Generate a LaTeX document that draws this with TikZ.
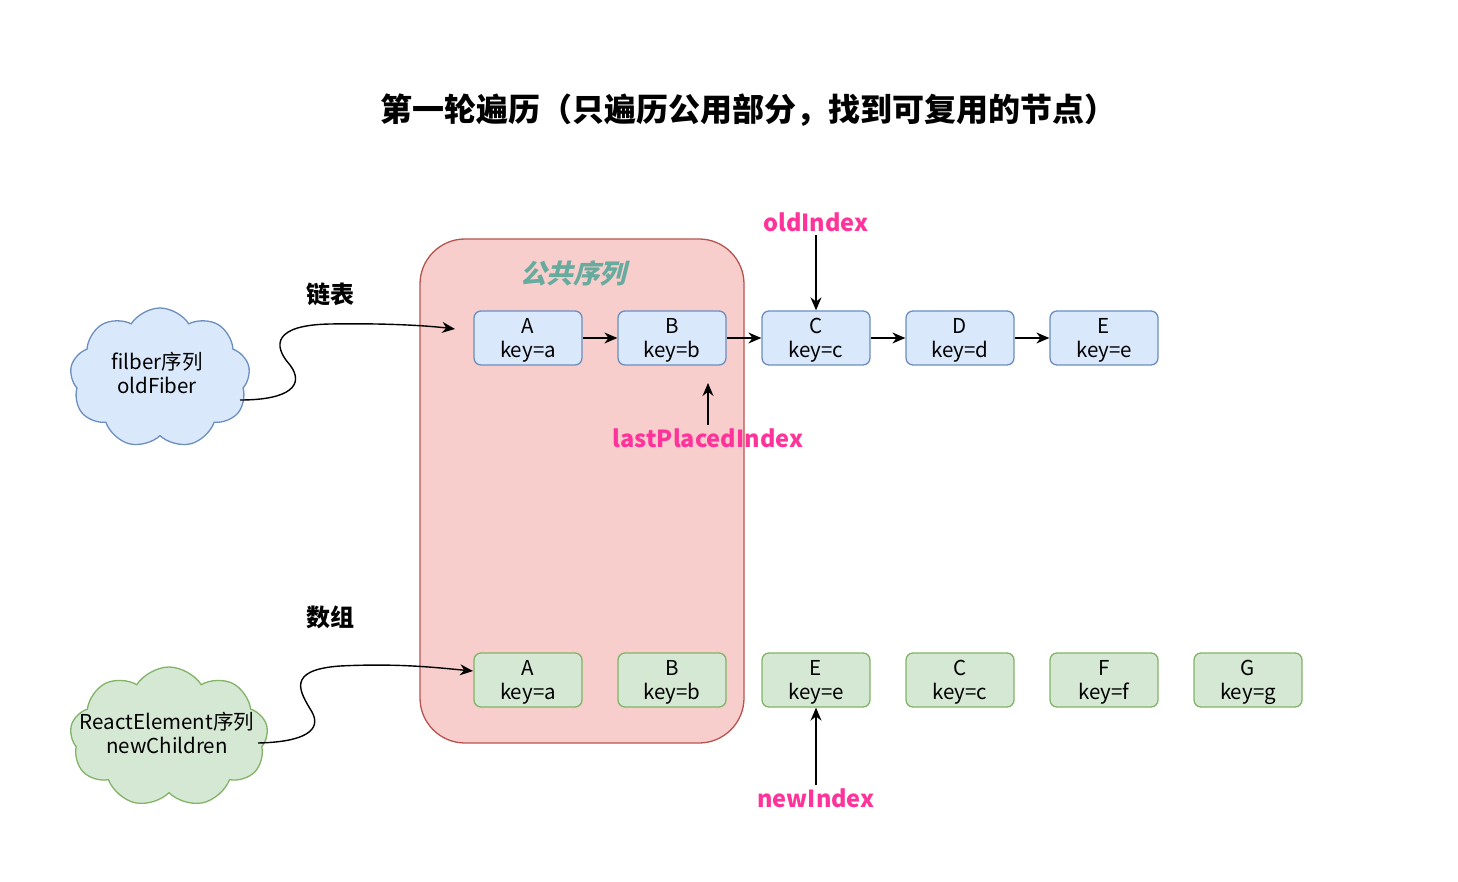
\documentclass[tikz,border=0pt]{standalone}
\usepackage{fontspec}
\setmainfont{Noto Sans CJK SC}
\newfontfamily\slantcjk[FakeSlant=0.25]{Noto Sans CJK SC}
\usetikzlibrary{arrows.meta,shapes.symbols}
\definecolor{oldfill}{HTML}{DAE8FC}
\definecolor{oldline}{HTML}{6C8EBF}
\definecolor{newfill}{HTML}{D5E8D4}
\definecolor{newline}{HTML}{82B366}
\definecolor{samefill}{HTML}{F8CECC}
\definecolor{sameline}{HTML}{B85450}
\definecolor{sametext}{HTML}{67AB9F}
\definecolor{idxpink}{HTML}{FF3399}

\begin{document}
\begin{tikzpicture}[x=1pt, y=-1pt,
  font=\fontsize{20.5}{23.5}\selectfont,
  box/.style={rounded corners=7pt, align=center, line width=1.3pt,
              minimum width=108pt, minimum height=54pt, inner sep=0pt,
              text depth=0pt},
  oldbox/.style={box, draw=oldline, fill=oldfill},
  newbox/.style={box, draw=newline, fill=newfill},
  puff/.style={cloud, cloud puffs=9, cloud puff arc=115, aspect=1.3,
               line width=1.3pt, inner sep=0pt},
  flow/.style={-{Stealth[length=13pt, width=11pt]}, line width=1.4pt},
  tag/.style={text=idxpink, font=\fontsize{23.5}{25}\selectfont\bfseries}]
  \useasboundingbox (0,0) rectangle (1458,882);

  \node[font=\fontsize{32}{34}\selectfont\bfseries] (title) at (748,110)
    {第一轮遍历（只遍历公用部分，找到可复用的节点）};

  % common part of both lists
  \node[draw=sameline, fill=samefill, line width=1.3pt, rounded corners=45pt,
        minimum width=324pt, minimum height=504pt] (same) at (582,491) {};
  \node[text=sametext, font=\fontsize{26.5}{28}\selectfont\bfseries\slantcjk]
    (samelabel) at (573,273) {公共序列};

  % old fibers (linked list)
  \node[oldbox] (oldA) at (528,338) {A\\key=a};
  \node[oldbox] (oldB) at (672,338) {B\\key=b};
  \node[oldbox] (oldC) at (816,338) {C\\key=c};
  \node[oldbox] (oldD) at (960,338) {D\\key=d};
  \node[oldbox] (oldE) at (1104,338) {E\\key=e};
  \draw[flow] (oldA) -- (oldB);
  \draw[flow] (oldB) -- (oldC);
  \draw[flow] (oldC) -- (oldD);
  \draw[flow] (oldD) -- (oldE);

  % new children (array)
  \node[newbox] (newA) at (528,680) {A\\key=a};
  \node[newbox] (newB) at (672,680) {B\\key=b};
  \node[newbox] (newE) at (816,680) {E\\key=e};
  \node[newbox] (newC) at (960,680) {C\\key=c};
  \node[newbox] (newF) at (1104,680) {F\\key=f};
  \node[newbox] (newG) at (1248,680) {G\\key=g};

  % pointers
  \node[tag] (oldidx) at (816,222) {oldIndex};
  \draw[flow] (oldidx) -- (oldC);
  \node[tag] (lastidx) at (708,438) {lastPlacedIndex};
  \coordinate (lasttip) at (708,383);
  \draw[flow] (lastidx) -- (lasttip);
  \node[tag] (newidx) at (816,798) {newIndex};
  \draw[flow] (newidx) -- (newE);

  % sources
  \node[puff, draw=oldline, fill=oldfill, minimum width=180pt,
        minimum height=140pt] (fibers) at (160,378) {};
  \node[align=center] (fiberstext) at (157,373) {filber序列\\oldFiber};
  \node[puff, draw=newline, fill=newfill, minimum width=198pt,
        minimum height=140pt] (elements) at (169,737) {};
  \node[align=center] (elementstext) at (167,733)
    {ReactElement序列\\newChildren};

  \node[font=\fontsize{24}{26}\selectfont\bfseries] (listlabel) at (330,294) {链表};
  \node[font=\fontsize{24}{26}\selectfont\bfseries] (arraylabel) at (330,617) {数组};

  \coordinate (fiberout) at (240,400);
  \coordinate (fiberin) at (455,329);
  \draw[flow] (fiberout) .. controls (290,400) and (305,385) .. (290,365)
    .. controls (272,345) and (274,325) .. (330,324)
    .. controls (390,323) and (430,326) .. (fiberin);
  \coordinate (elemout) at (258,743);
  \coordinate (elemin) at (473,671);
  \draw[flow] (elemout) .. controls (305,742) and (322,730) .. (312,712)
    .. controls (300,692) and (285,670) .. (340,666)
    .. controls (400,663) and (440,668) .. (elemin);
\end{tikzpicture}
\end{document}
